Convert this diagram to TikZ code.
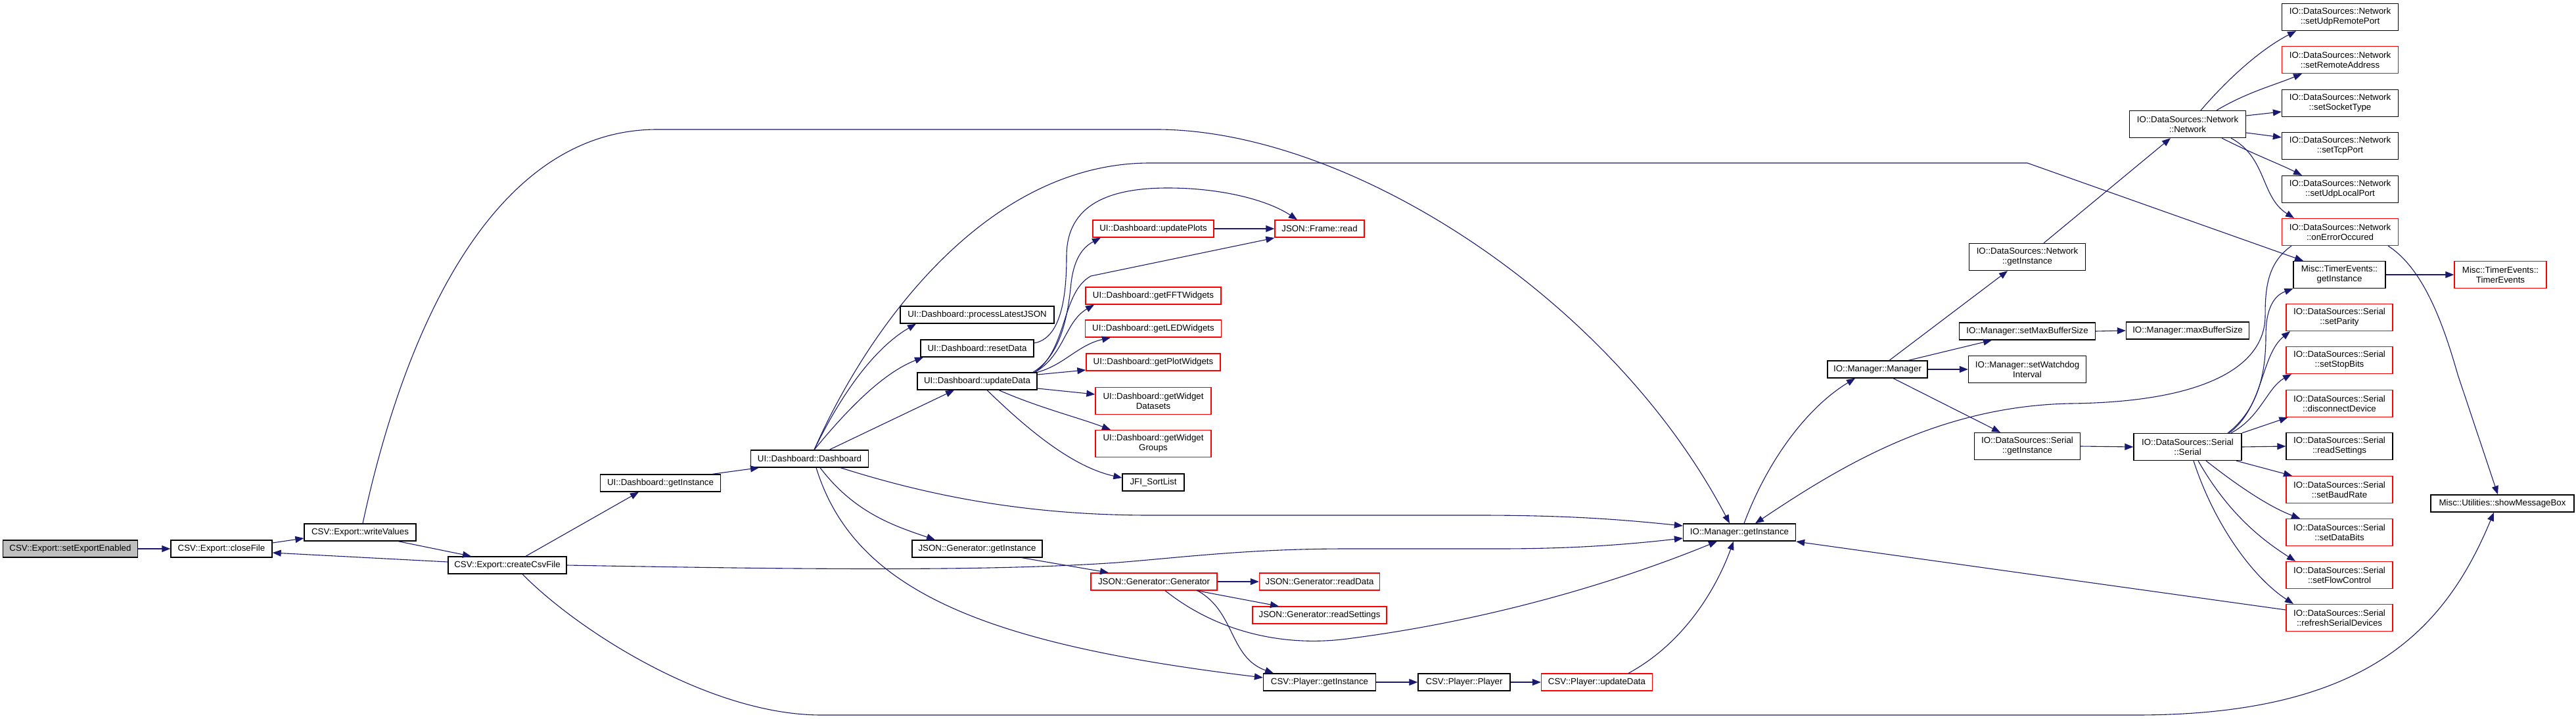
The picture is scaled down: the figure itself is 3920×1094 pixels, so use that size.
\documentclass[tikz,border=0pt]{standalone}
\usepackage{fontspec}
\setmainfont{Liberation Sans}
\usetikzlibrary{arrows.meta}
\definecolor{edgec}{HTML}{191970}
\definecolor{nred}{HTML}{FF0000}
\definecolor{rootfill}{HTML}{BFBFBF}
\begin{document}
\begin{tikzpicture}[x=1pt,y=-1pt,
 nbox/.style={draw=black, line width=1.3pt, inner sep=0pt, minimum height=26pt, align=center, font=\fontsize{13.3}{15}\selectfont, fill=white},
 rbox/.style={nbox, draw=nred},
 tall/.style={minimum height=41pt},
 call/.style={draw=edgec, line width=1.1pt, -{Triangle[length=13pt,width=10pt]}}]
\useasboundingbox[fill=white] (0,0) rectangle (3920,1094);

% ---- nodes ----
\node[nbox, fill=rootfill, minimum width=205pt] (root) at (107,835) {CSV::Export::setExportEnabled};
\node[nbox, minimum width=154pt] (closeFile) at (337,835) {CSV::Export::closeFile};
\node[nbox, minimum width=170pt] (writeVal) at (548,810) {CSV::Export::writeValues};
\node[nbox, minimum width=180pt] (createCsv) at (772,860) {CSV::Export::createCsvFile};
\node[nbox, minimum width=183pt] (dashInst) at (1005,735) {UI::Dashboard::getInstance};
\node[nbox, minimum width=179pt] (dash) at (1232,698) {UI::Dashboard::Dashboard};
\node[nbox, minimum width=234pt] (procJSON) at (1487,479) {UI::Dashboard::processLatestJSON};
\node[nbox, minimum width=172pt] (resetData) at (1487,530) {UI::Dashboard::resetData};
\node[nbox, minimum width=182pt] (updData) at (1487,580) {UI::Dashboard::updateData};
\node[nbox, minimum width=198pt] (jgInst) at (1487,835) {JSON::Generator::getInstance};
\node[rbox, minimum width=192pt] (jgGen) at (1756,885) {JSON::Generator::Generator};
\node[rbox, minimum width=183pt] (jgRead) at (2008,885) {JSON::Generator::readData};
\node[rbox, minimum width=204pt] (jgSet) at (2008,936) {JSON::Generator::readSettings};
\node[nbox, minimum width=171pt] (plInst) at (2008,1038) {CSV::Player::getInstance};
\node[nbox, minimum width=140pt] (plPlayer) at (2228,1038) {CSV::Player::Player};
\node[rbox, minimum width=169pt] (plUpd) at (2430,1038) {CSV::Player::updateData};
\node[nbox, minimum width=171pt] (iomInst) at (2647,810) {IO::Manager::getInstance};
\node[rbox, minimum width=184pt] (updPlots) at (1755,348) {UI::Dashboard::updatePlots};
\node[rbox, minimum width=136pt] (frameRead) at (2008,348) {JSON::Frame::read};
\node[rbox, minimum width=206pt] (fft) at (1755,450) {UI::Dashboard::getFFTWidgets};
\node[rbox, minimum width=207pt] (led) at (1755,500) {UI::Dashboard::getLEDWidgets};
\node[rbox, minimum width=204pt] (plot) at (1755,551) {UI::Dashboard::getPlotWidgets};
\node[rbox, tall, minimum width=176pt] (wds) at (1755,610) {UI::Dashboard::getWidget\\Datasets};
\node[rbox, tall, minimum width=176pt] (wgr) at (1755,675) {UI::Dashboard::getWidget\\Groups};
\node[nbox, minimum width=94pt] (jfi) at (1755,734) {JFI\_SortList};
\node[nbox, minimum width=152pt] (iomMgr) at (2857,562) {IO::Manager::Manager};
\node[nbox, tall, minimum width=177pt] (netInst) at (3085,391) {IO::DataSources::Network\\::getInstance};
\node[nbox, minimum width=207pt] (setMax) at (3085,504) {IO::Manager::setMaxBufferSize};
\node[nbox, tall, minimum width=179pt] (wdog) at (3085,562) {IO::Manager::setWatchdog\\Interval};
\node[nbox, tall, minimum width=161pt] (serInst) at (3085,679) {IO::DataSources::Serial\\::getInstance};
\node[nbox, minimum width=187pt] (maxBuf) at (3329,503) {IO::Manager::maxBufferSize};
\node[nbox, tall, minimum width=177pt] (netNet) at (3329,189) {IO::DataSources::Network\\::Network};
\node[nbox, tall, minimum width=164pt] (serSer) at (3329,680) {IO::DataSources::Serial\\::Serial};
\node[nbox, tall, minimum width=177pt] (udpRem) at (3561,26) {IO::DataSources::Network\\::setUdpRemotePort};
\node[rbox, tall, minimum width=177pt] (remAddr) at (3561,91) {IO::DataSources::Network\\::setRemoteAddress};
\node[nbox, tall, minimum width=177pt] (sockType) at (3561,157) {IO::DataSources::Network\\::setSocketType};
\node[nbox, tall, minimum width=177pt] (tcpPort) at (3561,222) {IO::DataSources::Network\\::setTcpPort};
\node[nbox, tall, minimum width=177pt] (udpLoc) at (3561,288) {IO::DataSources::Network\\::setUdpLocalPort};
\node[rbox, tall, minimum width=177pt] (onErr) at (3561,353) {IO::DataSources::Network\\::onErrorOccured};
\node[nbox, tall, minimum width=140pt] (teInst) at (3560,418) {Misc::TimerEvents::\\getInstance};
\node[rbox, tall, minimum width=140pt] (teTE) at (3805,418) {Misc::TimerEvents::\\TimerEvents};
\node[rbox, tall, minimum width=162pt] (parity) at (3560,483) {IO::DataSources::Serial\\::setParity};
\node[rbox, tall, minimum width=162pt] (stopB) at (3560,548) {IO::DataSources::Serial\\::setStopBits};
\node[rbox, tall, minimum width=162pt] (disc) at (3560,614) {IO::DataSources::Serial\\::disconnectDevice};
\node[nbox, tall, minimum width=162pt] (rdSet) at (3560,679) {IO::DataSources::Serial\\::readSettings};
\node[rbox, tall, minimum width=162pt] (baud) at (3560,745) {IO::DataSources::Serial\\::setBaudRate};
\node[rbox, tall, minimum width=162pt] (dataB) at (3560,810) {IO::DataSources::Serial\\::setDataBits};
\node[rbox, tall, minimum width=162pt] (flow) at (3560,875) {IO::DataSources::Serial\\::setFlowControl};
\node[rbox, tall, minimum width=162pt] (refresh) at (3560,940) {IO::DataSources::Serial\\::refreshSerialDevices};
\node[nbox, minimum width=218pt] (msgBox) at (3808,766) {Misc::Utilities::showMessageBox};

% ---- edges ----
\draw[call] (root.east) -- (closeFile.west);
\draw[call] ([yshift=9pt]closeFile.east) -- ([yshift=-9pt]writeVal.west);
\draw[call] ([xshift=58pt]writeVal.south) -- ([xshift=-55pt]createCsv.north);
\draw[call] ([yshift=5pt]createCsv.west) -- ([yshift=-6pt]closeFile.east);
\draw[call] ([xshift=4pt]writeVal.north) .. controls (620,480) and (760,197) .. (1000,197) -- (1760,197) .. controls (2050,197) and (2450,450) .. ([xshift=-15pt]iomInst.north);
\draw[call] ([xshift=28pt]createCsv.north) -- ([xshift=-33pt]dashInst.south);
\draw[call] (createCsv.east) .. controls (1200,866) and (1500,870) .. (1700,856) .. controls (1800,848) and (1900,835) .. (2050,835) -- (2280,835) .. controls (2400,835) and (2480,828) .. ([yshift=-9pt]iomInst.west);
\draw[call] ([xshift=23pt]createCsv.south) .. controls (880,960) and (1080,1088) .. (1250,1088) -- (3250,1088) .. controls (3600,1088) and (3720,960) .. ([xshift=-13pt]msgBox.south);
\draw[call] ([xshift=79pt]dashInst.north) -- ([xshift=-77pt]dash.south);
\draw[call] ([xshift=7pt]dash.north) .. controls (1280,600) and (1330,530) .. ([xshift=-93pt]procJSON.south);
\draw[call] ([xshift=7pt]dash.north) .. controls (1300,610) and (1350,565) .. ([xshift=-82pt]resetData.south);
\draw[call] ([xshift=30pt]dash.north) -- ([xshift=-35pt]updData.south);
\draw[call] ([xshift=16pt]dash.south) .. controls (1300,780) and (1360,800) .. ([xshift=-64pt]jgInst.north);
\draw[call] ([xshift=10pt]dash.south) .. controls (1300,900) and (1500,980) .. ([yshift=7pt]plInst.west);
\draw[call] ([xshift=47pt]dash.south) .. controls (1400,750) and (1550,784) .. (1750,784) -- (2250,784) .. controls (2400,784) and (2480,792) .. ([yshift=10pt]iomInst.west);
\draw[call] ([xshift=7pt]dash.north) .. controls (1320,500) and (1500,248) .. (1750,248) -- (3085,248) -- ([xshift=-55pt]teInst.north);
\draw[call] ([yshift=8pt]resetData.east) .. controls (1615,515) and (1623,450) .. (1623,390) .. controls (1623,310) and (1690,286) .. (1777,286) .. controls (1860,286) and (1930,305) .. ([xshift=-34pt]frameRead.north);
\draw[call] ([xshift=85pt]updData.north) .. controls (1615,540) and (1625,480) .. (1630,430) .. controls (1635,390) and (1650,375) .. ([xshift=-80pt]updPlots.south);
\draw[call] ([xshift=88pt]updData.north) .. controls (1625,530) and (1615,445) .. (1660,420) -- ([yshift=-14pt]frameRead.west);
\draw[call] ([xshift=88pt]updData.north) .. controls (1620,540) and (1620,490) .. ([xshift=-90pt]fft.south);
\draw[call] (updData.north east) .. controls (1620,555) and (1640,525) .. ([xshift=-65pt]led.south);
\draw[call] ([yshift=10pt]updData.east) -- ([yshift=-12pt]plot.west);
\draw[call] ([yshift=-11pt]updData.east) -- ([yshift=10pt]wds.west);
\draw[call] ([xshift=33pt]updData.south) .. controls (1580,620) and (1640,635) .. ([xshift=-65pt]wgr.north);
\draw[call] ([xshift=15pt]updData.south) .. controls (1560,650) and (1630,710) .. ([yshift=7pt]jfi.west);
\draw[call] (updPlots.east) -- (frameRead.west);
\draw[call] ([xshift=68pt]jgInst.south) -- ([xshift=-69pt]jgGen.north);
\draw[call] (jgGen.east) -- (jgRead.west);
\draw[call] ([xshift=65pt]jgGen.south) -- ([xshift=-62pt]jgSet.north);
\draw[call] ([xshift=66pt]jgGen.south) .. controls (1880,930) and (1870,1000) .. ([xshift=-70pt]plInst.north);
\draw[call] ([xshift=17pt]jgGen.south) .. controls (1850,960) and (1950,985) .. (2050,972) .. controls (2300,940) and (2500,870) .. ([xshift=-34pt]iomInst.south);
\draw[call] (plInst.east) -- (plPlayer.west);
\draw[call] (plPlayer.east) -- (plUpd.west);
\draw[call] ([xshift=48pt]plUpd.north) .. controls (2560,980) and (2610,900) .. ([xshift=-9pt]iomInst.south);
\draw[call] ([xshift=7pt]iomInst.north) .. controls (2690,700) and (2750,620) .. ([xshift=-34pt]iomMgr.south);
\draw[call] ([xshift=18pt]iomMgr.north) -- ([xshift=-30pt]netInst.south);
\draw[call] ([xshift=47pt]iomMgr.north) -- ([xshift=-54pt]setMax.south);
\draw[call] (iomMgr.east) -- (wdog.west);
\draw[call] ([xshift=24pt]iomMgr.south) -- ([xshift=-41pt]serInst.north);
\draw[call] ([xshift=25pt]netInst.north) -- ([xshift=-26pt]netNet.south);
\draw[call] (setMax.east) -- (maxBuf.west);
\draw[call] (serInst.east) -- (serSer.west);
\draw[call] ([xshift=20pt]netNet.north) .. controls (3390,120) and (3440,75) .. ([xshift=-67pt]udpRem.south);
\draw[call] ([xshift=44pt]netNet.north) .. controls (3420,140) and (3460,130) .. ([xshift=-58pt]remAddr.south);
\draw[call] ([yshift=13pt]netNet.east) -- ([yshift=-13pt]sockType.west);
\draw[call] ([yshift=-13pt]netNet.east) -- ([yshift=13pt]tcpPort.west);
\draw[call] ([xshift=52pt]netNet.south) .. controls (3430,235) and (3470,250) .. ([xshift=-58pt]udpLoc.north);
\draw[call] ([xshift=66pt]netNet.south) .. controls (3450,240) and (3440,300) .. ([xshift=-70pt]onErr.north);
\draw[call] ([xshift=73pt]onErr.south) .. controls (3690,410) and (3720,500) .. (3740,570) -- ([xshift=-7pt]msgBox.north);
\draw[call] ([xshift=-74pt]onErr.south) .. controls (3450,400) and (3447,440) .. (3447,480) .. controls (3447,560) and (3350,612) .. (3150,614) .. controls (2950,618) and (2800,710) .. ([xshift=24pt]iomInst.north);
\draw[call] ([xshift=61pt]serSer.north) .. controls (3440,620) and (3448,560) .. (3448,510) .. controls (3448,470) and (3460,450) .. (teInst.south west);
\draw[call] ([xshift=63pt]serSer.north) .. controls (3445,620) and (3440,540) .. ([xshift=-75pt]parity.south);
\draw[call] ([xshift=66pt]serSer.north) .. controls (3440,635) and (3450,590) .. ([xshift=-73pt]stopB.south);
\draw[call] (serSer.north east) -- ([xshift=3pt]disc.south west);
\draw[call] (serSer.east) -- (rdSet.west);
\draw[call] ([xshift=74pt]serSer.south) -- ([xshift=-72pt]baud.north);
\draw[call] ([xshift=28pt]serSer.south) .. controls (3400,735) and (3450,770) .. ([xshift=-60pt]dataB.north);
\draw[call] ([xshift=16pt]serSer.south) .. controls (3390,780) and (3440,820) .. ([xshift=-67pt]flow.north);
\draw[call] ([xshift=9pt]serSer.south) .. controls (3370,800) and (3430,880) .. ([xshift=-70pt]refresh.north);
\draw[call] ([yshift=12pt]refresh.west) -- ([yshift=-14pt]iomInst.east);
\draw[call] (teInst.east) -- (teTE.west);
\end{tikzpicture}
\end{document}
